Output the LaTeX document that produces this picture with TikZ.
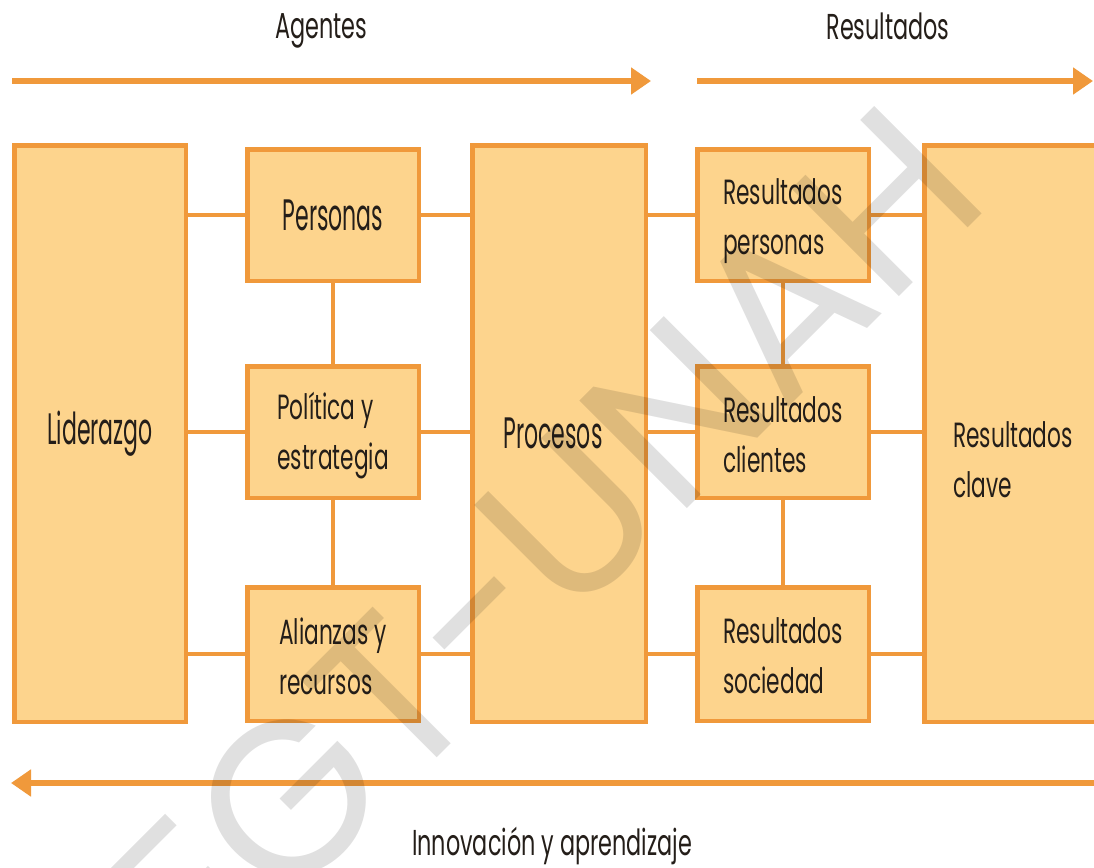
\documentclass[tikz,border=0pt]{standalone}
\usepackage{fontspec}
\setmainfont{Poppins}
\newfontfamily\smallf{Poppins}[FakeStretch=0.62]
\newfontfamily\bigf{Poppins}[FakeStretch=0.5]
\newfontfamily\wmf{Poppins}
\usetikzlibrary{arrows.meta}
\definecolor{boxfill}{HTML}{FDD48D}
\definecolor{boxline}{HTML}{F0993B}
\definecolor{ink}{HTML}{241E19}
\begin{document}
\begin{tikzpicture}[x=1pt,y=-1pt,
  box/.style={draw=boxline, fill=boxfill, line width=4.5pt, inner sep=0pt},
  smallbox/.style={box, minimum width=171.5pt, minimum height=131.5pt},
  tallbox/.style={box, minimum width=173.5pt, minimum height=576.5pt},
  conn/.style={draw=boxline, line width=4.5pt},
  flow/.style={draw=boxline, line width=5.5pt, -{Triangle[length=20pt,width=26pt]}},
  big/.style={font=\bigf\fontsize{44}{50}\selectfont, text=ink},
  small/.style={font=\smallf\fontsize{35}{50}\selectfont, text=ink, align=left},
  ttl/.style={font=\smallf\fontsize{36}{44}\selectfont, text=ink},
  wm/.style={font=\wmf\fontsize{218}{218}\selectfont, text=black, text opacity=0.12, rotate=45}]
\useasboundingbox (0,0) rectangle (1094,867);
\fill[white] (0,0) rectangle (1094,867);

% titles
\node[ttl, anchor=base] (tA) at (321,38) {Agentes};
\node[ttl, anchor=base] (tR) at (888,40) {Resultados};
\node[ttl, anchor=base] (tI) at (552,855) {Innovación y aprendizaje};

% flow arrows
\coordinate (a1s) at (12,81);  \coordinate (a1e) at (651,81);
\coordinate (a2s) at (697,81); \coordinate (a2e) at (1093,81);
\coordinate (a3s) at (1100,783); \coordinate (a3e) at (11,783);
\draw[flow] (a1s) -- (a1e);
\draw[flow] (a2s) -- (a2e);
\draw[flow] (a3s) -- (a3e);

% boxes
\node[tallbox, minimum width=171.5pt] (lid) at (100,433.5) {};
\node[big] (lidt) at (100,433.5) {Liderazgo};
\node[tallbox] (proc) at (559,433.5) {};
\node[big] (proct) at (553,433.5) {Procesos};
\node[tallbox] (clave) at (1011,433.5) {};
\node[small] (clavet) at (1013,460) {Resultados\\clave};

\node[smallbox, big] (pers) at (333,215) {Personas};
\node[smallbox] (pol) at (333,432) {};
\node[small] (polt) at (333,436) {Política y\\estrategia};
\node[smallbox, minimum height=133.5pt] (ali) at (333,654) {};
\node[small] (alit) at (333,656) {Alianzas y\\recursos};

\node[smallbox] (rp) at (783,215) {};
\node[small] (rpt) at (783,221) {Resultados\\personas};
\node[smallbox] (rc) at (783,432) {};
\node[small] (rct) at (783,435) {Resultados\\clientes};
\node[smallbox, minimum height=133.5pt] (rs) at (783,654) {};
\node[small] (rst) at (783,656) {Resultados\\sociedad};

% connectors
\foreach \a/\b/\c/\d in {pers/proc/rp/clave, pol/proc/rc/clave, ali/proc/rs/clave}{
  \draw[conn] (lid.east |- \a.west) -- (\a.west);
  \draw[conn] (\a.east) -- (\a.east -| \b.west);
  \draw[conn] (\b.east |- \c.west) -- (\c.west);
  \draw[conn] (\c.east) -- (\c.east -| \d.west);
}
\draw[conn] (pers.south) -- (pol.north);
\draw[conn] (pol.south) -- (ali.north);
\draw[conn] (rp.south) -- (rc.north);
\draw[conn] (rc.south) -- (rs.north);

% watermark
\node[wm] (mark) at (545,543) {EGT-UNAH};
\end{tikzpicture}
\end{document}
